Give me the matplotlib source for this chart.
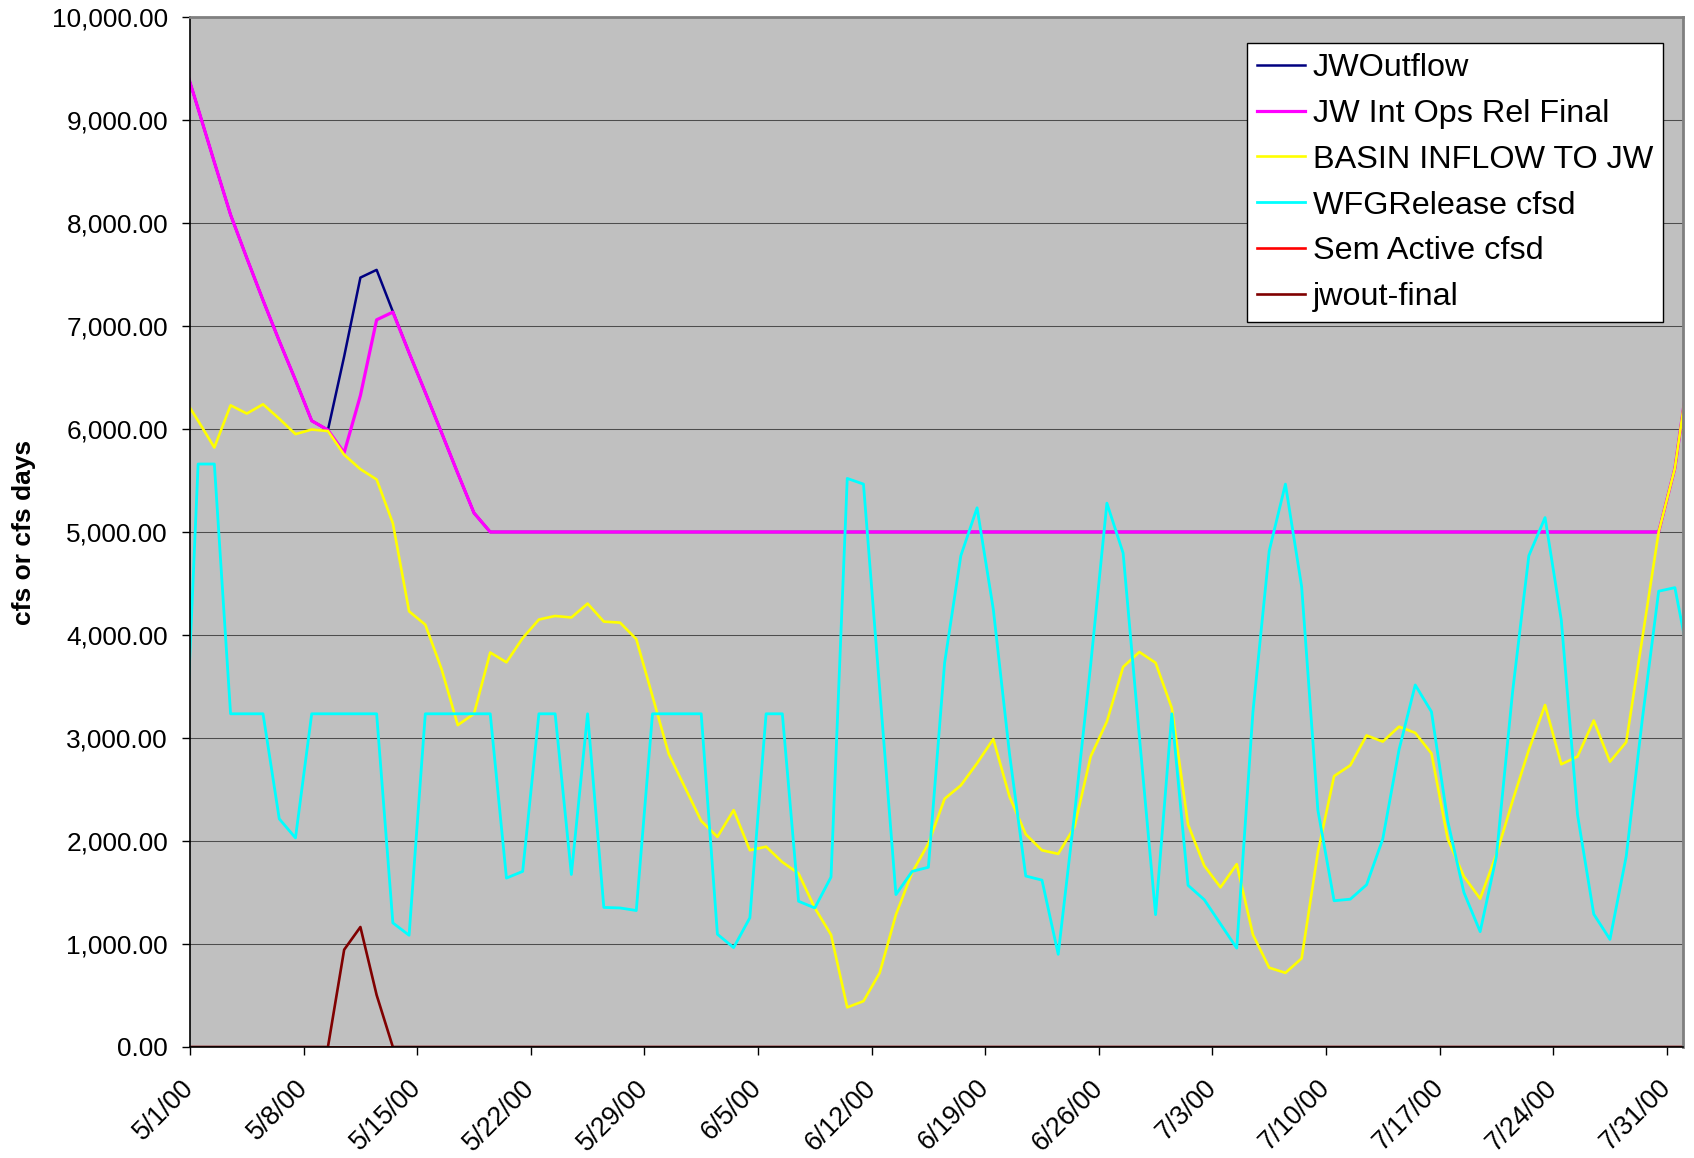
import pandas as pd
import matplotlib
matplotlib.use('Agg')
import matplotlib.pyplot as plt
import matplotlib.transforms as mtransforms
from matplotlib import font_manager

plt.rcParams['font.family'] = ['Liberation Sans', 'DejaVu Sans']

# daily values from 4/30/00 to 8/1/00 (first and last day fall just outside the axis)
start_day = '2000-04-30'

jw_outflow = [9620, 9110, 8590, 8080, 7660, 7250, 6855, 6475, 6080, 5990, 6705,
              7470, 7545, 7140, 6740, 6355, 5965, 5570, 5185] + [5000] * 72 + [5000, 5620, 6720]

jw_int_ops = [9620, 9110, 8590, 8080, 7660, 7250, 6855, 6475, 6080, 5990, 5770,
              6325, 7060, 7135, 6740, 6355, 5965, 5570, 5185] + [5000] * 72 + [5000, 5620, 6720]

basin_inflow = [6330,
                6080, 5820, 6230, 6150, 6240, 6100, 5950, 5995, 5980, 5750,
                5610, 5510, 5085, 4230, 4100, 3670, 3125, 3235, 3830, 3735,
                3970, 4150, 4185, 4170, 4305, 4130, 4120, 3960, 3405, 2845,
                2520, 2195, 2040, 2300, 1910, 1945, 1795, 1685, 1350, 1090,
                385, 445, 720, 1285, 1695, 1975, 2410, 2540, 2755, 2990,
                2430, 2065, 1910, 1875, 2135, 2820, 3160, 3690, 3835, 3730,
                3290, 2160, 1760, 1550, 1775, 1090, 770, 720, 860, 1890,
                2630, 2735, 3025, 2965, 3110, 3050, 2850, 2020, 1655, 1440,
                1870, 2390, 2885, 3320, 2745, 2820, 3170, 2770, 2960, 3975,
                5000, 5620, 6720]

wfg_release = [2020,
               5660, 5660, 3235, 3235, 3235, 2215, 2030, 3235, 3235, 3235,
               3235, 3235, 1205, 1085, 3235, 3235, 3235, 3235, 3235, 1640,
               1705, 3235, 3235, 1675, 3235, 1355, 1350, 1325, 3235, 3235,
               3235, 3235, 1095, 965, 1255, 3235, 3235, 1415, 1350, 1650,
               5520, 5465, 3470, 1480, 1705, 1745, 3730, 4770, 5235, 4250,
               2845, 1660, 1620, 900, 2255, 3710, 5280, 4795, 3015, 1285,
               3235, 1570, 1430, 1195, 960, 3255, 4815, 5465, 4470, 2300,
               1420, 1435, 1575, 2020, 2885, 3515, 3255, 2195, 1500, 1120,
               1850, 3450, 4770, 5140, 4145, 2255, 1290, 1045, 1850, 3190,
               4425, 4460, 3650]

sem_active = [0] * 94

jwout_final = [0] * 10 + [945, 1165, 505] + [0] * 81

dates = pd.date_range(start_day, periods=len(basin_inflow), freq='D')
x = dates + pd.Timedelta(hours=12)   # points sit in the middle of each day

tick_dates = pd.date_range('2000-05-01', '2000-07-31', freq='7D')
tick_labels = [f"{d.month}/{d.day}/{d:%y}" for d in tick_dates]

fig = plt.figure(figsize=(16.94, 11.58), dpi=100)
ax = fig.add_axes([190 / 1694, 1 - 1047 / 1158, (1683 - 190) / 1694, (1047 - 17) / 1158])
ax.set_facecolor('#c0c0c0')

ax.plot(x, jw_outflow, color='#000080', lw=1.8, label='JWOutflow')
ax.plot(x, jw_int_ops, color='#ff00ff', lw=2.3, label='JW Int Ops Rel Final')
ax.plot(x, basin_inflow, color='#ffff00', lw=1.9, label='BASIN INFLOW TO JW')
ax.plot(x, wfg_release, color='#00ffff', lw=2.0, label='WFGRelease cfsd')
ax.plot(x, sem_active, color='#ff0000', lw=1.9, label='Sem Active cfsd')
ax.plot(x, jwout_final, color='#800000', lw=1.9, label='jwout-final')

ax.set_xlim(pd.Timestamp('2000-05-01'), pd.Timestamp('2000-08-01'))
ax.set_ylim(0, 10000)
ax.set_yticks(range(0, 10001, 1000))
ax.set_yticklabels([f"{v:,.2f}" for v in range(0, 10001, 1000)])
ax.yaxis.grid(True, color='#4d4d4d', lw=0.75)
ax.set_axisbelow(True)

ax.set_xticks(tick_dates)
ax.set_xticklabels(tick_labels, rotation=45, ha='right', va='center',
                   rotation_mode='anchor')
shift = mtransforms.ScaledTranslation(7 / 100, 0, fig.dpi_scale_trans)
for lab in ax.get_xticklabels():
    lab.set_transform(lab.get_transform() + shift)

ax.tick_params(axis='y', length=5.8, width=1, pad=10, labelsize=18.9)
ax.tick_params(axis='x', length=5.8, width=1, pad=21, labelsize=19.1)

for side in ['top', 'right']:
    ax.spines[side].set_color('#808080')
    ax.spines[side].set_linewidth(2)
for side in ['left', 'bottom']:
    ax.spines[side].set_color('black')
    ax.spines[side].set_linewidth(1.2)

names = {f.name for f in font_manager.fontManager.ttflist}
if 'Liberation Sans Narrow' in names:
    ax.set_ylabel('cfs or cfs days', family='Liberation Sans Narrow', size=21, weight='bold')
else:
    ax.set_ylabel('cfs or cfs days', size=19, weight='bold')
ax.yaxis.set_label_coords((36 - 190) / 1493, 0.5)

leg = ax.legend(loc='upper right', bbox_to_anchor=(1662.7 / 1694, 1 - 43.3 / 1158),
                bbox_transform=fig.transFigure, borderaxespad=0, fontsize=23.3,
                handlelength=1.5, handletextpad=0.23, borderpad=0.3,
                labelspacing=0.49, fancybox=False, framealpha=1)
leg.get_frame().set_edgecolor('black')
leg.get_frame().set_linewidth(1)

fig.savefig('out.png', dpi=100)
